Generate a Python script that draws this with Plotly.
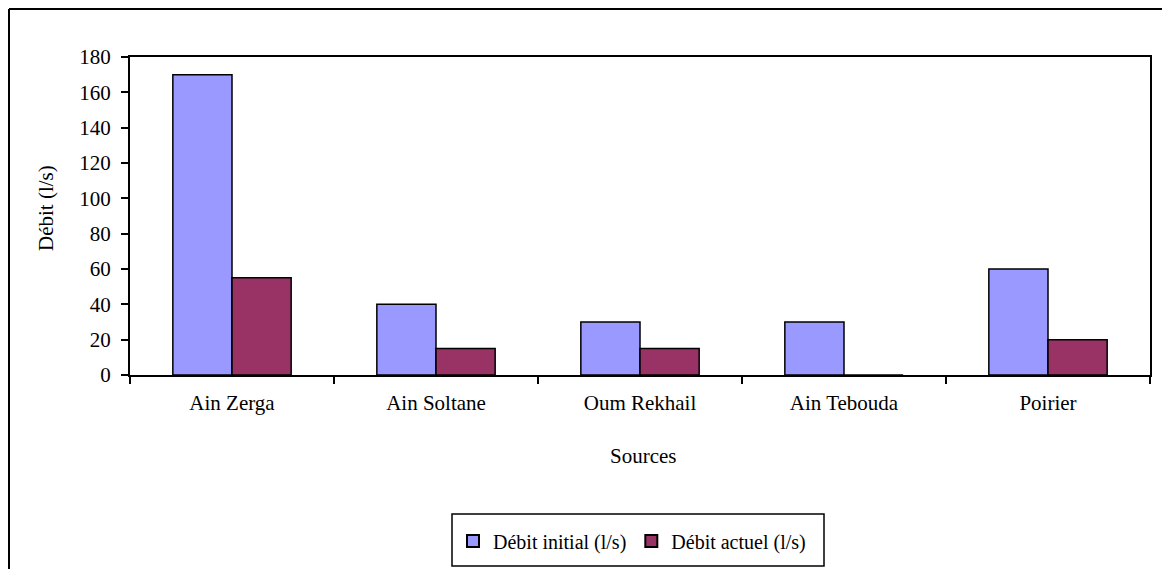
import plotly.graph_objects as go

categories = ["Ain Zerga", "Ain Soltane", "Oum Rekhail", "Ain Tebouda", "Poirier"]
debit_initial = [170, 40, 30, 30, 60]
debit_actuel = [55, 15, 15, 0, 20]
y_ticks = [0, 20, 40, 60, 80, 100, 120, 140, 160, 180]

W, H = 1162, 569
L, R, T, B = 130, 12, 57, 194
pw = W - L - R
ph = H - T - B

def px(x):
    return (x - L) / pw

def py(y):
    return (H - B - y) / ph

FONT = "Liberation Serif"

fig = go.Figure()
fig.add_trace(go.Bar(
    x=categories, y=debit_initial, name="Débit initial (l/s)",
    marker=dict(color="#9999FF", line=dict(color="black", width=1.5)),
))
fig.add_trace(go.Bar(
    x=categories, y=debit_actuel, name="Débit actuel (l/s)",
    marker=dict(color="#993366", line=dict(color="black", width=1.5)),
))

fig.update_layout(
    width=W, height=H,
    margin=dict(l=L, r=R, t=T, b=B, autoexpand=False),
    paper_bgcolor="white", plot_bgcolor="white",
    font=dict(family=FONT, size=21, color="black"),
    barmode="group", bargap=0.42, bargroupgap=0,
    showlegend=True,
    legend=dict(
        orientation="h", x=px(632), xanchor="center", y=py(541), yanchor="middle",
        borderwidth=0, bgcolor="rgba(0,0,0,0)",
        font=dict(family=FONT, size=20, color="black"),
        itemsizing="constant",
    ),
    xaxis=dict(
        range=[-0.5, 4.5], showline=True, linecolor="black", linewidth=2, mirror=True,
        ticks="outside", tickson="boundaries", ticklen=7, tickwidth=1.5, tickcolor="black",
        showgrid=False, zeroline=False, ticklabelstandoff=8,
        tickfont=dict(family=FONT, size=21, color="black"),
    ),
    yaxis=dict(
        range=[0, 180], tickvals=y_ticks, showline=True, linecolor="black", linewidth=2, mirror=True,
        ticks="outside", ticklen=7, tickwidth=1.5, tickcolor="black",
        showgrid=False, zeroline=False, ticklabelstandoff=6,
        tickfont=dict(family=FONT, size=21, color="black"),
    ),
    annotations=[
        dict(text="Sources", x=px(643), y=py(456), xref="paper", yref="paper",
             showarrow=False, xanchor="center", yanchor="middle",
             font=dict(family=FONT, size=21, color="black")),
        dict(text="Débit (l/s)", x=px(46), y=py(208), xref="paper", yref="paper",
             showarrow=False, xanchor="center", yanchor="middle", textangle=-90,
             font=dict(family=FONT, size=21, color="black")),
    ],
    shapes=[
        dict(type="line", xref="paper", yref="paper", x0=px(9), x1=px(1170), y0=py(9), y1=py(9),
             line=dict(color="black", width=2)),
        dict(type="line", xref="paper", yref="paper", x0=px(9), x1=px(9), y0=py(9), y1=py(580),
             line=dict(color="black", width=2)),
        dict(type="rect", xref="paper", yref="paper", x0=px(452), x1=px(824), y0=py(514), y1=py(566),
             line=dict(color="black", width=1.5), fillcolor="rgba(0,0,0,0)", layer="below"),
    ],
)

fig.write_html("out.html")
